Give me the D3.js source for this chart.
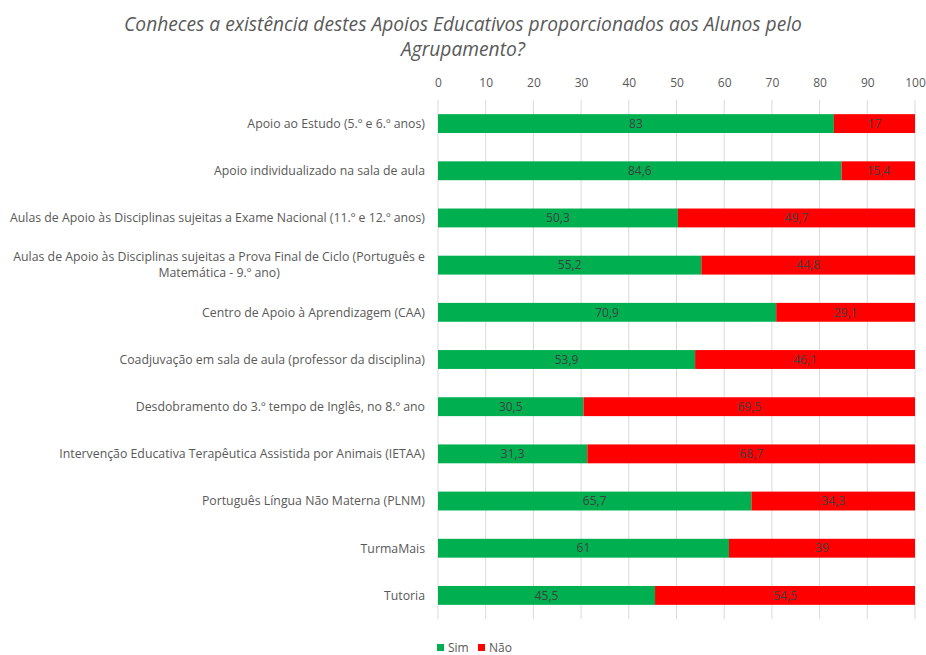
<!DOCTYPE html>
<html>
<head>
<meta charset="utf-8">
<script src="https://cdn.jsdelivr.net/npm/d3@7"></script>
<style>
	body { margin: 0; background: #fff; }
	text { font-family: "Open Sans", "Noto Sans", sans-serif; }
</style>
</head>
<body>
<svg id="chart" width="926" height="655"></svg>
<script>
const titleLines = ["Conheces a existência destes Apoios Educativos proporcionados aos Alunos pelo", "Agrupamento?"]
const categories = [
	"Apoio ao Estudo (5.º e 6.º anos)",
	"Apoio individualizado na sala de aula",
	"Aulas de Apoio às Disciplinas sujeitas a Exame Nacional (11.º e 12.º anos)",
	"Aulas de Apoio às Disciplinas sujeitas a Prova Final de Ciclo (Português e|Matemática - 9.º ano)",
	"Centro de Apoio à Aprendizagem (CAA)",
	"Coadjuvação em sala de aula (professor da disciplina)",
	"Desdobramento do 3.º tempo de Inglês, no 8.º ano",
	"Intervenção Educativa Terapêutica Assistida por Animais (IETAA)",
	"Português Língua Não Materna (PLNM)",
	"TurmaMais",
	"Tutoria"
]
const sim = [83, 84.6, 50.3, 55.2, 70.9, 53.9, 30.5, 31.3, 65.7, 61, 45.5]
const nao = [17, 15.4, 49.7, 44.8, 29.1, 46.1, 69.5, 68.7, 34.3, 39, 54.5]
const seriesNames = ["Sim", "Não"]
const seriesColors = ["#00B050", "#FF0000"]
const xTicks = [0, 10, 20, 30, 40, 50, 60, 70, 80, 90, 100]

const svg = d3.select("#chart")
const x = d3.scaleLinear().domain([0, 100]).range([438, 915])
const y = d3.scaleBand().domain(categories).range([100, 619]).paddingInner(0.6).paddingOuter(0.3)

const fmt = v => String(v).replace(".", ",")

// title
svg.append("g")
	.selectAll("text")
	.data(titleLines)
	.enter()
	.append("text")
	.attr("x", 463)
	.attr("y", (d, i) => 31 + i * 25)
	.attr("text-anchor", "middle")
	.attr("font-size", 19.2)
	.attr("font-style", "italic")
	.attr("fill", "#595959")
	.text(d => d)

// gridlines
svg.append("g")
	.selectAll("line")
	.data(xTicks)
	.enter()
	.append("line")
	.attr("x1", d => x(d))
	.attr("x2", d => x(d))
	.attr("y1", 100)
	.attr("y2", 619)
	.attr("stroke", "#d9d9d9")
	.attr("stroke-width", 1)

// top axis
const axis = svg.append("g")
	.attr("transform", "translate(0,100)")
	.call(d3.axisTop(x).tickValues(xTicks).tickSize(0).tickPadding(13))
axis.select(".domain").remove()
axis.selectAll("text")
	.attr("font-size", 12)
	.attr("fill", "#595959")
	.style("font-family", "'Open Sans', sans-serif")

// stacked bars
const stack = d3.stack().keys([0, 1]).value((d, k) => d[k])
const rows = categories.map((c, i) => [sim[i], nao[i]])
const layers = stack(rows)

const layer = svg.append("g")
	.selectAll("g")
	.data(layers)
	.enter()
	.append("g")
	.attr("fill", (d, i) => seriesColors[i])

layer.selectAll("rect")
	.data(d => d)
	.enter()
	.append("rect")
	.attr("x", d => x(d[0]))
	.attr("width", d => x(d[1]) - x(d[0]))
	.attr("y", (d, i) => y(categories[i]))
	.attr("height", y.bandwidth())

layer.selectAll("text")
	.data(d => d)
	.enter()
	.append("text")
	.attr("x", d => (x(d[0]) + x(d[1])) / 2)
	.attr("y", (d, i) => y(categories[i]) + y.bandwidth() / 2)
	.attr("dy", "0.35em")
	.attr("text-anchor", "middle")
	.attr("font-size", 12)
	.attr("fill", "#404040")
	.text(d => fmt(+(d[1] - d[0]).toFixed(1)))

// category labels
const labels = svg.append("g")
	.selectAll("text")
	.data(categories)
	.enter()
	.append("text")
	.attr("font-size", 12.3)
	.attr("fill", "#595959")
	.attr("y", d => y(d) + y.bandwidth() / 2)
labels.each(function (d) {
	const t = d3.select(this)
	const parts = d.split("|")
	if (parts.length === 1) {
		t.attr("x", 425).attr("text-anchor", "end").attr("dy", "0.35em").text(d)
		return
	}
	// wrapped label: right aligned block, lines centred within it
	const tmp = t.append("tspan").text(parts[0])
	const w = tmp.node().getComputedTextLength()
	tmp.remove()
	const cx = 425 - w / 2
	t.attr("text-anchor", "middle")
	parts.forEach((p, j) => {
		t.append("tspan")
			.attr("x", cx)
			.attr("dy", j === 0 ? "-0.3em" : "1.3em")
			.text(p)
	})
})

// legend
const legend = svg.append("g")
	.selectAll("g")
	.data(seriesNames)
	.enter()
	.append("g")
	.attr("transform", (d, i) => `translate(${437 + i * 41},644)`)
legend.append("rect")
	.attr("width", 7)
	.attr("height", 7)
	.attr("fill", (d, i) => seriesColors[i])
legend.append("text")
	.attr("x", 11)
	.attr("y", 4)
	.attr("dy", "0.35em")
	.attr("font-size", 12)
	.attr("fill", "#595959")
	.text(d => d)
</script>
</body>
</html>
